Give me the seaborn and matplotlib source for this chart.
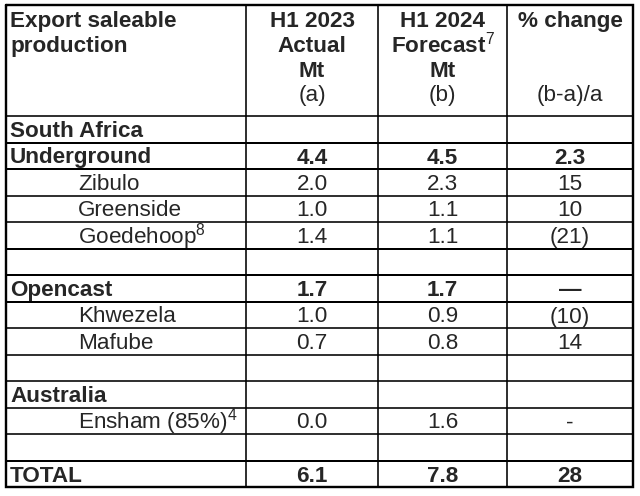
import matplotlib
matplotlib.use("Agg")
import matplotlib.pyplot as plt
import seaborn as sns

# ---- data ----
row_labels = ["South Africa", "Underground", "Zibulo", "Greenside", "Goedehoop", "",
              "Opencast", "Khwezela", "Mafube", "", "Australia", "Ensham (85%)", "", "TOTAL"]
label_sup = ["", "", "", "", "8", "", "", "", "", "", "", "4", "", ""]
h1_2023 = ["", "4.4", "2.0", "1.0", "1.4", "", "1.7", "1.0", "0.7", "", "", "0.0", "", "6.1"]
h1_2024 = ["", "4.5", "2.3", "1.1", "1.1", "", "1.7", "0.9", "0.8", "", "", "1.6", "", "7.8"]
pct_change = ["", "2.3", "15", "10", "(21)", "", "\u2014", "(10)", "14", "", "", "-", "", "28"]
bold_rows = ["South Africa", "Underground", "Opencast", "Australia", "TOTAL"]
indented = ["Zibulo", "Greenside", "Goedehoop", "Khwezela", "Mafube", "Ensham (85%)"]

header_col1 = ["Export saleable", "production"]
header_col2 = ["H1 2023", "Actual", "Mt", "(a)"]
header_col3 = ["H1 2024", "Forecast$^{7}$", "Mt", "(b)"]
header_col4 = ["% change", "", "", "(b-a)/a"]

sns.set_theme(style="white")
plt.rcParams["font.family"] = ["Liberation Sans", "DejaVu Sans"]
plt.rcParams["mathtext.fontset"] = "custom"
plt.rcParams["mathtext.rm"] = "Liberation Sans"
plt.rcParams["mathtext.bf"] = "Liberation Sans:bold"

fig = plt.figure(figsize=(6.4, 4.96), dpi=100)
ax = fig.add_axes([0, 0, 1, 1])
ax.set_xlim(0, 640)
ax.set_ylim(496, 0)
ax.axis("off")

fs = 16.2
px = 0.72  # points per pixel

x_edges = [6, 246, 378, 507, 633]
top = 5
header_bottom = 116
row_h = (487 - header_bottom) / len(row_labels)
y_edges = [header_bottom + i * row_h for i in range(len(row_labels) + 1)]

# grid lines
ax.hlines(y_edges[:-1], x_edges[0], x_edges[-1], color="black", lw=1.6 * px)
for yi in [1, 2, 5, 6, 7, 13]:
    ax.hlines(y_edges[yi], x_edges[0], x_edges[-1], color="black", lw=2.0 * px)
ax.vlines(x_edges[1:-1], top, y_edges[-1], color="black", lw=1.6 * px)
# outer border
ax.plot([x_edges[0], x_edges[-1], x_edges[-1], x_edges[0], x_edges[0]],
        [top, top, y_edges[-1], y_edges[-1], top], color="black", lw=2.4 * px,
        solid_joinstyle="miter")

# header
header_baselines = [27, 52, 77, 101]
centers = [(x_edges[i] + x_edges[i + 1]) / 2 for i in range(len(x_edges) - 1)]
for i, t in enumerate(header_col1):
    ax.text(10, header_baselines[i], t, fontsize=fs, fontweight="bold", va="baseline", ha="left")
for col, lines in zip([1, 2, 3], [header_col2, header_col3, header_col4]):
    for i, t in enumerate(lines):
        if not t:
            continue
        w = "normal" if t.startswith("(") else "bold"
        ax.text(centers[col], header_baselines[i], t, fontsize=fs, fontweight=w,
                va="baseline", ha="center")

# body
for r, lab in enumerate(row_labels):
    base = y_edges[r + 1] - 5.5
    bold = lab in bold_rows
    w = "bold" if bold else "normal"
    if lab:
        x = 78 if lab in indented else 10
        txt = lab + (f"$^{{{label_sup[r]}}}$" if label_sup[r] else "")
        ax.text(x, base, txt, fontsize=fs, fontweight=w, va="baseline", ha="left")
    for col, vals in zip([1, 2, 3], [h1_2023, h1_2024, pct_change]):
        v = vals[r]
        if v:
            ax.text(centers[col], base, v, fontsize=fs, fontweight=w, va="baseline", ha="center")

fig.savefig("out.png", dpi=100, facecolor="white")
